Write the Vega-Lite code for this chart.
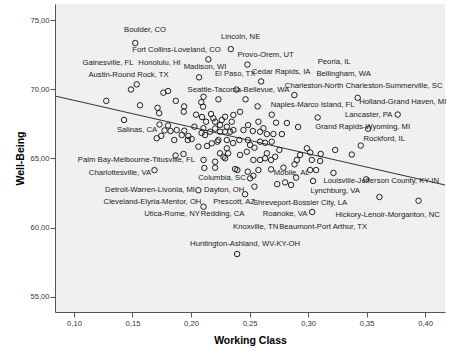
{
  "$schema": "https://vega.github.io/schema/vega-lite/v6.json",
  "width": 390,
  "height": 308,
  "autosize": {"type": "none"},
  "padding": {"left": 55, "top": 4, "right": 6, "bottom": 49},
  "background": "white",
  "config": {
    "view": {"fill": "#F0F0F0", "stroke": null},
    "font": "Liberation Sans",
    "axis": {
      "grid": false,
      "domainColor": "#555555",
      "tickColor": "#555555",
      "tickSize": 5,
      "labelFont": "Liberation Sans",
      "labelFontSize": 7.6,
      "labelColor": "#333333",
      "titleFont": "Liberation Sans",
      "titleFontSize": 10.5,
      "titleFontWeight": "bold",
      "titleColor": "#000000"
    }
  },
  "datasets": {
    "points": [
      {"wc": 0.1524, "wb": 73.34}, {"wc": 0.2340, "wb": 72.90}, {"wc": 0.2148, "wb": 72.16}, {"wc": 0.2482, "wb": 71.78},
      {"wc": 0.2069, "wb": 70.86}, {"wc": 0.2599, "wb": 70.56}, {"wc": 0.1536, "wb": 70.35}, {"wc": 0.1487, "wb": 69.98},
      {"wc": 0.1764, "wb": 69.75}, {"wc": 0.1804, "wb": 69.87}, {"wc": 0.2389, "wb": 69.98}, {"wc": 0.2883, "wb": 69.58},
      {"wc": 0.3424, "wb": 69.38}, {"wc": 0.2107, "wb": 69.46}, {"wc": 0.2234, "wb": 69.27}, {"wc": 0.2466, "wb": 69.27},
      {"wc": 0.1276, "wb": 69.16}, {"wc": 0.1870, "wb": 69.16}, {"wc": 0.2088, "wb": 69.06}, {"wc": 0.1564, "wb": 68.84},
      {"wc": 0.1714, "wb": 68.66}, {"wc": 0.1728, "wb": 68.27}, {"wc": 0.1941, "wb": 68.76}, {"wc": 0.1938, "wb": 68.37},
      {"wc": 0.2103, "wb": 68.74}, {"wc": 0.2569, "wb": 68.76}, {"wc": 0.2419, "wb": 68.37}, {"wc": 0.2171, "wb": 68.21},
      {"wc": 0.2362, "wb": 68.14}, {"wc": 0.2043, "wb": 68.16}, {"wc": 0.2094, "wb": 67.99}, {"wc": 0.2690, "wb": 68.16},
      {"wc": 0.3082, "wb": 67.96}, {"wc": 0.3766, "wb": 68.17}, {"wc": 0.1428, "wb": 67.78}, {"wc": 0.2129, "wb": 67.65},
      {"wc": 0.2206, "wb": 67.65}, {"wc": 0.2263, "wb": 67.78}, {"wc": 0.2348, "wb": 67.65}, {"wc": 0.2576, "wb": 67.65},
      {"wc": 0.2727, "wb": 67.58}, {"wc": 0.2819, "wb": 67.56}, {"wc": 0.2915, "wb": 67.27}, {"wc": 0.1731, "wb": 67.45},
      {"wc": 0.1804, "wb": 67.38}, {"wc": 0.2029, "wb": 67.29}, {"wc": 0.2306, "wb": 67.29}, {"wc": 0.2619, "wb": 67.18},
      {"wc": 0.3514, "wb": 67.14}, {"wc": 0.1774, "wb": 67.02}, {"wc": 0.1825, "wb": 66.98}, {"wc": 0.1878, "wb": 67.05},
      {"wc": 0.1943, "wb": 67.00}, {"wc": 0.2090, "wb": 66.84}, {"wc": 0.2106, "wb": 67.18}, {"wc": 0.2362, "wb": 67.05},
      {"wc": 0.2206, "wb": 67.16}, {"wc": 0.2163, "wb": 66.93}, {"wc": 0.2248, "wb": 66.93}, {"wc": 0.2291, "wb": 66.93},
      {"wc": 0.2334, "wb": 66.93}, {"wc": 0.2120, "wb": 66.69}, {"wc": 0.2448, "wb": 67.05}, {"wc": 0.2528, "wb": 66.98},
      {"wc": 0.2590, "wb": 66.93}, {"wc": 0.2648, "wb": 66.76}, {"wc": 0.2704, "wb": 66.76}, {"wc": 0.2776, "wb": 66.76},
      {"wc": 0.1707, "wb": 66.46}, {"wc": 0.1746, "wb": 66.63}, {"wc": 0.1857, "wb": 66.33}, {"wc": 0.1921, "wb": 66.69},
      {"wc": 0.1977, "wb": 66.62}, {"wc": 0.2006, "wb": 66.40}, {"wc": 0.1972, "wb": 66.33}, {"wc": 0.2063, "wb": 65.85},
      {"wc": 0.2177, "wb": 66.09}, {"wc": 0.2234, "wb": 66.33}, {"wc": 0.2306, "wb": 66.33}, {"wc": 0.2413, "wb": 66.33},
      {"wc": 0.2485, "wb": 66.33}, {"wc": 0.2590, "wb": 66.21}, {"wc": 0.2633, "wb": 66.13}, {"wc": 0.2690, "wb": 66.21},
      {"wc": 0.2505, "wb": 65.97}, {"wc": 0.2990, "wb": 65.73}, {"wc": 0.3232, "wb": 65.61}, {"wc": 0.3450, "wb": 65.93},
      {"wc": 0.3374, "wb": 65.28}, {"wc": 0.2248, "wb": 65.37}, {"wc": 0.2306, "wb": 65.73}, {"wc": 0.2317, "wb": 65.37},
      {"wc": 0.2277, "wb": 65.12}, {"wc": 0.2419, "wb": 65.25}, {"wc": 0.2477, "wb": 65.48}, {"wc": 0.2533, "wb": 64.89},
      {"wc": 0.2542, "wb": 65.77}, {"wc": 0.2590, "wb": 64.89}, {"wc": 0.2633, "wb": 65.01}, {"wc": 0.2648, "wb": 65.37},
      {"wc": 0.2684, "wb": 64.89}, {"wc": 0.2719, "wb": 65.12}, {"wc": 0.2755, "wb": 65.61}, {"wc": 0.2904, "wb": 64.89},
      {"wc": 0.2932, "wb": 65.25}, {"wc": 0.3018, "wb": 65.43}, {"wc": 0.3032, "wb": 64.89}, {"wc": 0.3108, "wb": 65.32},
      {"wc": 0.3103, "wb": 64.81}, {"wc": 0.1868, "wb": 65.21}, {"wc": 0.1936, "wb": 65.32}, {"wc": 0.2107, "wb": 64.89},
      {"wc": 0.2206, "wb": 64.76}, {"wc": 0.2114, "wb": 64.31}, {"wc": 0.2206, "wb": 64.33}, {"wc": 0.1688, "wb": 64.15},
      {"wc": 0.2377, "wb": 64.23}, {"wc": 0.2396, "wb": 64.16}, {"wc": 0.2485, "wb": 64.04}, {"wc": 0.2576, "wb": 64.16},
      {"wc": 0.2684, "wb": 64.21}, {"wc": 0.2533, "wb": 63.75}, {"wc": 0.2505, "wb": 63.56}, {"wc": 0.2790, "wb": 64.33},
      {"wc": 0.2884, "wb": 64.57}, {"wc": 0.3018, "wb": 64.16}, {"wc": 0.3069, "wb": 64.16}, {"wc": 0.3217, "wb": 63.95},
      {"wc": 0.2898, "wb": 63.61}, {"wc": 0.2804, "wb": 63.27}, {"wc": 0.2855, "wb": 63.08}, {"wc": 0.2736, "wb": 63.14},
      {"wc": 0.2542, "wb": 62.96}, {"wc": 0.2462, "wb": 62.41}, {"wc": 0.2063, "wb": 62.70}, {"wc": 0.3043, "wb": 63.37},
      {"wc": 0.3497, "wb": 63.49}, {"wc": 0.3610, "wb": 62.21}, {"wc": 0.3944, "wb": 61.94}, {"wc": 0.2107, "wb": 61.51},
      {"wc": 0.3035, "wb": 61.13}, {"wc": 0.2394, "wb": 58.09}, {"wc": 0.2225, "wb": 66.21}, {"wc": 0.2191, "wb": 67.90},
      {"wc": 0.2291, "wb": 65.01}, {"wc": 0.2359, "wb": 66.11}, {"wc": 0.2137, "wb": 65.90}, {"wc": 0.2291, "wb": 68.01},
      {"wc": 0.2248, "wb": 67.41}, {"wc": 0.2488, "wb": 67.41}
    ],
    "fit": [
      {"wc": 0.0838, "wb": 69.51},
      {"wc": 0.4170, "wb": 63.08}
    ],
    "labels": [
      {"name": "Boulder, CO", "wc": 0.1607, "wb": 74.28},
      {"name": "Fort Collins-Loveland, CO", "wc": 0.1876, "wb": 72.87},
      {"name": "Lincoln, NE", "wc": 0.2424, "wb": 73.77},
      {"name": "Provo-Orem, UT", "wc": 0.2637, "wb": 72.51},
      {"name": "Gainesville, FL", "wc": 0.1291, "wb": 71.89},
      {"name": "Honolulu, HI", "wc": 0.1731, "wb": 71.86},
      {"name": "Madison, WI", "wc": 0.2120, "wb": 71.64},
      {"name": "El Paso, TX", "wc": 0.2377, "wb": 71.13},
      {"name": "Cedar Rapids, IA", "wc": 0.2770, "wb": 71.21},
      {"name": "Bellingham, WA", "wc": 0.3304, "wb": 71.13},
      {"name": "Peoria, IL", "wc": 0.3223, "wb": 71.97},
      {"name": "Austin-Round Rock, TX", "wc": 0.1466, "wb": 71.03},
      {"name": "Seattle-Tacoma-Bellevue, WA", "wc": 0.2406, "wb": 69.98},
      {"name": "Charleston-North Charleston-Summerville, SC", "wc": 0.3475, "wb": 70.20},
      {"name": "Naples-Marco Island, FL", "wc": 0.3039, "wb": 68.86},
      {"name": "Holland-Grand Haven, MI", "wc": 0.3809, "wb": 69.08},
      {"name": "Lancaster, PA", "wc": 0.3518, "wb": 68.14},
      {"name": "Grand Rapids-Wyoming, MI", "wc": 0.3467, "wb": 67.27},
      {"name": "Rockford, IL", "wc": 0.3651, "wb": 66.40},
      {"name": "Salinas, CA", "wc": 0.1539, "wb": 67.05},
      {"name": "Palm Bay-Melbourne-Titusville, FL", "wc": 0.1534, "wb": 64.89},
      {"name": "Charlottesville, VA", "wc": 0.1393, "wb": 63.95},
      {"name": "Columbia, SC", "wc": 0.2265, "wb": 63.58},
      {"name": "Mobile, AL", "wc": 0.2860, "wb": 63.91},
      {"name": "Louisville-Jefferson County, KY-IN", "wc": 0.3625, "wb": 63.37},
      {"name": "Detroit-Warren-Livonia, MI", "wc": 0.1650, "wb": 62.75},
      {"name": "Dayton, OH", "wc": 0.2283, "wb": 62.75},
      {"name": "Lynchburg, VA", "wc": 0.3232, "wb": 62.61},
      {"name": "Cleveland-Elyria-Mentor, OH", "wc": 0.1671, "wb": 61.85},
      {"name": "Prescott, AZ", "wc": 0.2368, "wb": 61.85},
      {"name": "Shreveport-Bossier City, LA", "wc": 0.2932, "wb": 61.81},
      {"name": "Utica-Rome, NY", "wc": 0.1838, "wb": 60.95},
      {"name": "Redding, CA", "wc": 0.2270, "wb": 60.95},
      {"name": "Roanoke, VA", "wc": 0.2804, "wb": 60.95},
      {"name": "Hickory-Lenoir-Morganton, NC", "wc": 0.3680, "wb": 60.91},
      {"name": "Knoxville, TN", "wc": 0.2552, "wb": 60.04},
      {"name": "Beaumont-Port Arthur, TX", "wc": 0.3129, "wb": 60.04},
      {"name": "Huntington-Ashland, WV-KY-OH", "wc": 0.2462, "wb": 58.82}
    ]
  },
  "encoding": {
    "x": {
      "field": "wc", "type": "quantitative", "title": "Working Class",
      "scale": {"domain": [0.0838, 0.417], "nice": false, "zero": false},
      "axis": {"values": [0.10, 0.15, 0.20, 0.25, 0.30, 0.35, 0.40], "labelExpr": "replace(format(datum.value, '.2f'), '.', ',')", "labelPadding": 2, "titlePadding": 9}
    },
    "y": {
      "field": "wb", "type": "quantitative", "title": "Well-Being",
      "scale": {"domain": [53.9, 76.16], "nice": false, "zero": false},
      "axis": {"values": [55, 60, 65, 70, 75], "labelExpr": "replace(format(datum.value, '.2f'), '.', ',')", "labelPadding": 1, "titlePadding": 4}
    }
  },
  "layer": [
    {
      "data": {"name": "fit"},
      "mark": {"type": "line", "color": "#333333", "strokeWidth": 1, "clip": true}
    },
    {
      "data": {"name": "points"},
      "mark": {"type": "point", "shape": "circle", "filled": false, "stroke": "#222222", "strokeWidth": 1, "size": 30, "opacity": 1}
    },
    {
      "data": {"name": "labels"},
      "mark": {"type": "text", "font": "Liberation Sans", "fontSize": 7.7, "color": "#1a1a1a", "align": "center", "baseline": "middle"},
      "encoding": {"text": {"field": "name"}}
    }
  ]
}
